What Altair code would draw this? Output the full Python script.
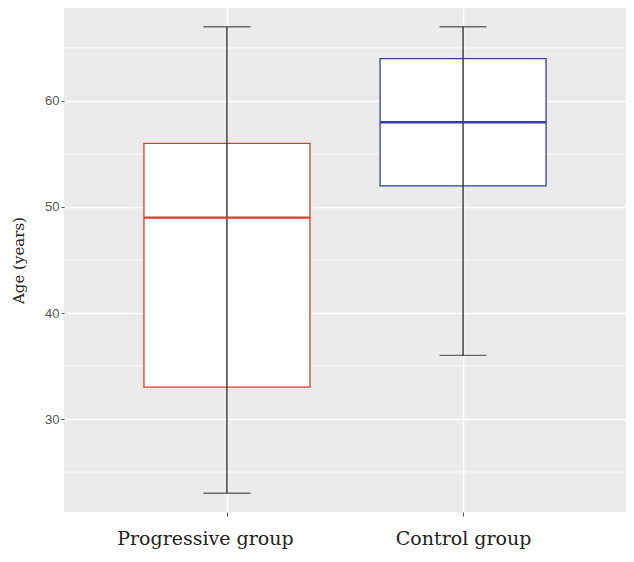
import altair as alt
import pandas as pd

groups = ["Progressive group", "Control group"]
mins = [23, 36]
q1s = [33, 52]
medians = [49, 58]
q3s = [56, 64]
maxs = [67, 67]
colors = ["#E23B2E", "#3A3F9C"]
major_ticks = [30, 40, 50, 60]
minor_ticks = [25, 35, 45, 55, 65]

df = pd.DataFrame({
    "group": groups, "min": mins, "q1": q1s, "median": medians,
    "q3": q3s, "max": maxs,
})
minor_df = pd.DataFrame({"v": minor_ticks})

ydom = [21.23, 68.77]
xscale = alt.Scale(type="point", domain=groups, padding=0.69)
yscale = alt.Scale(domain=ydom, nice=False, zero=False)
cscale = alt.Scale(domain=groups, range=colors)

xaxis = alt.Axis(title=None, labelFont="DejaVu Serif", labelFontSize=19,
                 labelColor="#222222", labelPadding=13, tickColor="#555555",
                 tickSize=4, domain=False, grid=True, gridColor="white",
                 gridWidth=1.6, labelAngle=0,
                 labelOffset={"expr": "datum.value == 'Progressive group' ? -22 : 0"})
yaxis = alt.Axis(title="Age (years)", titleFont="DejaVu Serif", titleFontSize=15,
                 titleFontWeight="normal", titleColor="#222222", titlePadding=18,
                 values=major_ticks, labelFont="Liberation Sans", labelFontSize=13,
                 labelColor="#555555", labelPadding=2, tickColor="#555555",
                 tickSize=3, domain=False, grid=True, gridColor="white",
                 gridWidth=1.6)

base = alt.Chart(df)

minor = alt.Chart(minor_df).mark_rule(color="white", strokeWidth=0.8).encode(
    y=alt.Y("v:Q", scale=yscale, axis=yaxis)
)

box = base.mark_bar(size=166, fill="white", strokeWidth=1.3).encode(
    x=alt.X("group:N", scale=xscale, axis=xaxis, sort=groups),
    y=alt.Y("q1:Q", scale=yscale, axis=yaxis),
    y2="q3:Q",
    stroke=alt.Color("group:N", scale=cscale, legend=None),
)

whisker = base.mark_rule(color="#333333", strokeWidth=1.4).encode(
    x=alt.X("group:N", scale=xscale, axis=xaxis, sort=groups),
    y=alt.Y("min:Q", scale=yscale, axis=yaxis),
    y2="max:Q",
)

cap_lo = base.mark_tick(color="#333333", size=47, thickness=1.4).encode(
    x=alt.X("group:N", scale=xscale, axis=xaxis, sort=groups),
    y=alt.Y("min:Q", scale=yscale, axis=yaxis),
)
cap_hi = base.mark_tick(color="#333333", size=47, thickness=1.4).encode(
    x=alt.X("group:N", scale=xscale, axis=xaxis, sort=groups),
    y=alt.Y("max:Q", scale=yscale, axis=yaxis),
)

med = base.mark_tick(size=166, thickness=2.4, opacity=1).encode(
    x=alt.X("group:N", scale=xscale, axis=xaxis, sort=groups),
    y=alt.Y("median:Q", scale=yscale, axis=yaxis),
    color=alt.Color("group:N", scale=cscale, legend=None),
)

chart = alt.layer(minor, box, whisker, cap_lo, cap_hi, med).properties(
    width=562, height=504,
    autosize=alt.AutoSizeParams(type="none"),
    padding={"left": 56, "top": 0, "right": 0, "bottom": 42},
).configure(background="white").configure_view(fill="#EBEBEB", stroke=None)

chart.save("out.html", embed_options={"renderer": "svg", "actions": False})
